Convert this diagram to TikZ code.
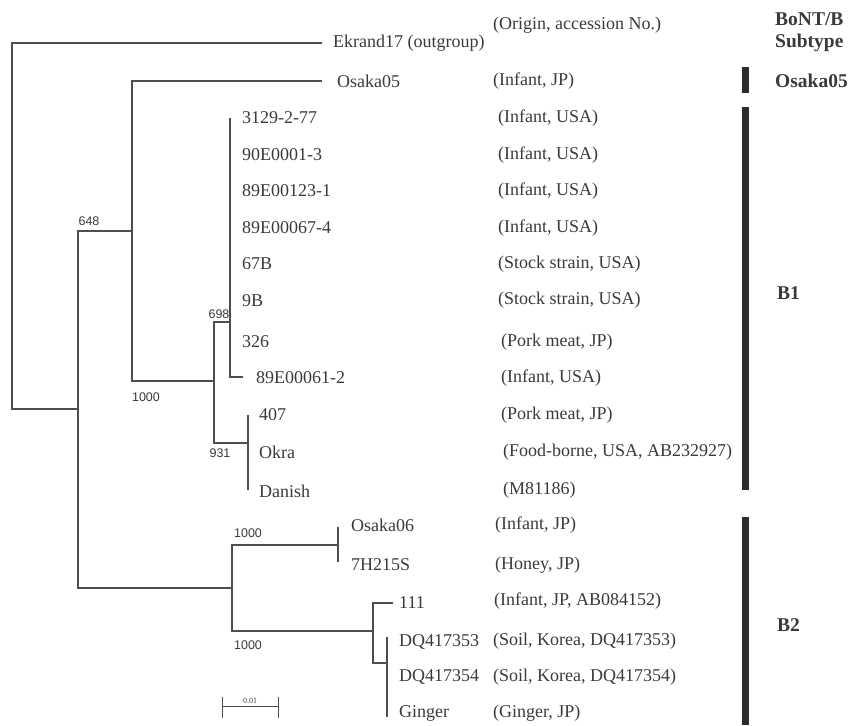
\documentclass[tikz,border=0pt]{standalone}
\usepackage{fontspec}
\setmainfont{Liberation Serif}
\newfontfamily\bootfont{Liberation Sans}
\definecolor{treeline}{HTML}{4E4E4E}
\definecolor{txt}{HTML}{3A3A3A}
\definecolor{barcol}{HTML}{2A2F2A}
\begin{document}
\begin{tikzpicture}[x=1pt,y=-1pt,
  branch/.style={draw=treeline,line width=1.2pt},
  leaf/.style={anchor=west,inner sep=0pt,text=txt,font=\fontsize{18}{20}\selectfont},
  origin/.style={anchor=west,inner sep=0pt,text=txt,font=\fontsize{18}{20}\selectfont},
  boot/.style={inner sep=0pt,text=txt,font=\bootfont\fontsize{12.5}{14}\selectfont},
  subtype/.style={anchor=west,inner sep=0pt,text=txt,font=\bfseries\fontsize{19.5}{22}\selectfont},
  bar/.style={fill=barcol,draw=none}]
\useasboundingbox (0,0) rectangle (858,725);

% internal nodes
\coordinate (r) at (12,226);
\coordinate (n648) at (78,409);
\coordinate (na) at (132,231);
\coordinate (n1000) at (214,381);
\coordinate (n698) at (230,322);
\coordinate (n931) at (248,443);
\coordinate (nb2) at (232,588);
\coordinate (no6) at (338,545);
\coordinate (n111) at (373,631);
\coordinate (ndq) at (387,663);

% tips
\coordinate (tEkr) at (322,43);
\coordinate (tOs5) at (322,81);
\coordinate (t3129) at (230,118);
\coordinate (t89061) at (243,377);
\coordinate (t407) at (248,415);
\coordinate (tDan) at (248,490);
\coordinate (tO6) at (338,527);
\coordinate (t7H) at (338,562);
\coordinate (t111) at (393,603);
\coordinate (tDQa) at (387,637);
\coordinate (tGin) at (387,717);

% branches
\draw[branch] (tEkr) -| (r) |- (n648);
\draw[branch] (na) -| (n648) |- (nb2);
\draw[branch] (tOs5) -| (na) |- (n1000);
\draw[branch] (n698) -| (n1000) |- (n931);
\draw[branch] (t3129) |- (t89061);
\draw[branch] (t407) -- (tDan);
\draw[branch] (no6) -| (nb2) |- (n111);
\draw[branch] (tO6) -- (t7H);
\draw[branch] (t111) -| (n111) |- (ndq);
\draw[branch] (tDQa) -- (tGin);

% leaf labels
\node[leaf] (lEkr) at (333,43) {Ekrand17 (outgroup)};
\node[leaf] (lOs5) at (337,81) {Osaka05};
\node[leaf] (l3129) at (242,118) {3129-2-77};
\node[leaf] (l90E) at (242,155) {90E0001-3};
\node[leaf] (l89123) at (242,191) {89E00123-1};
\node[leaf] (l89067) at (242,228) {89E00067-4};
\node[leaf] (l67B) at (242,264) {67B};
\node[leaf] (l9B) at (242,301) {9B};
\node[leaf] (l326) at (242,342) {326};
\node[leaf] (l89061) at (256,378) {89E00061-2};
\node[leaf] (l407) at (259,415) {407};
\node[leaf] (lOkra) at (259,452) {Okra};
\node[leaf] (lDan) at (259,491) {Danish};
\node[leaf] (lO6) at (351,525) {Osaka06};
\node[leaf] (l7H) at (351,565) {7H215S};
\node[leaf] (l111) at (399,603) {111};
\node[leaf] (lDQa) at (399,642) {DQ417353};
\node[leaf] (lDQb) at (399,677) {DQ417354};
\node[leaf] (lGin) at (399,713) {Ginger};

% origin labels
\node[origin] (oHead) at (493,25) {(Origin, accession No.)};
\node[origin] (oOs5) at (493,81) {(Infant, JP)};
\node[origin] (o1) at (498,118) {(Infant, USA)};
\node[origin] (o2) at (498,155) {(Infant, USA)};
\node[origin] (o3) at (498,191) {(Infant, USA)};
\node[origin] (o4) at (498,228) {(Infant, USA)};
\node[origin] (o5) at (498,264) {(Stock strain, USA)};
\node[origin] (o6) at (498,300) {(Stock strain, USA)};
\node[origin] (o7) at (501,342) {(Pork meat, JP)};
\node[origin] (o8) at (501,378) {(Infant, USA)};
\node[origin] (o9) at (501,415) {(Pork meat, JP)};
\node[origin] (o10) at (503,452) {(Food-borne, USA, AB232927)};
\node[origin] (o11) at (503,490) {(M81186)};
\node[origin] (o12) at (495,525) {(Infant, JP)};
\node[origin] (o13) at (495,565) {(Honey, JP)};
\node[origin] (o14) at (494,601) {(Infant, JP, AB084152)};
\node[origin] (o15) at (493,641) {(Soil, Korea, DQ417353)};
\node[origin] (o16) at (493,677) {(Soil, Korea, DQ417354)};
\node[origin] (o17) at (493,713) {(Ginger, JP)};

% bootstrap values
\node[boot] (b648) at (89,221) {648};
\node[boot] (b1000a) at (146,397) {1000};
\node[boot] (b698) at (219,314) {698};
\node[boot] (b931) at (220,453) {931};
\node[boot] (b1000b) at (248,533) {1000};
\node[boot] (b1000c) at (248,645) {1000};

% scale bar
\coordinate (sL) at (222,706);
\coordinate (sR) at (278,706);
\draw[branch,line width=1pt] (sL) -- (sR);
\draw[branch,line width=1pt] ([yshift=-12pt]sL) -- ([yshift=9pt]sL);
\draw[branch,line width=1pt] ([yshift=-12pt]sR) -- ([yshift=9pt]sR);
\node[inner sep=0pt,text=txt,font=\fontsize{8}{9}\selectfont] (sc) at (250,701) {0.01};

% subtype bars
\fill[bar] (742,67) rectangle (749,93);
\fill[bar] (742,107) rectangle (749,490);
\fill[bar] (742,517) rectangle (749,725);

% subtype labels
\node[subtype] (hd1) at (775,19) {BoNT/B};
\node[subtype] (hd2) at (775,43) {Subtype};
\node[subtype] (sOs5) at (775,81) {Osaka05};
\node[subtype] (sB1) at (777,293) {B1};
\node[subtype] (sB2) at (777,625) {B2};
\end{tikzpicture}
\end{document}
